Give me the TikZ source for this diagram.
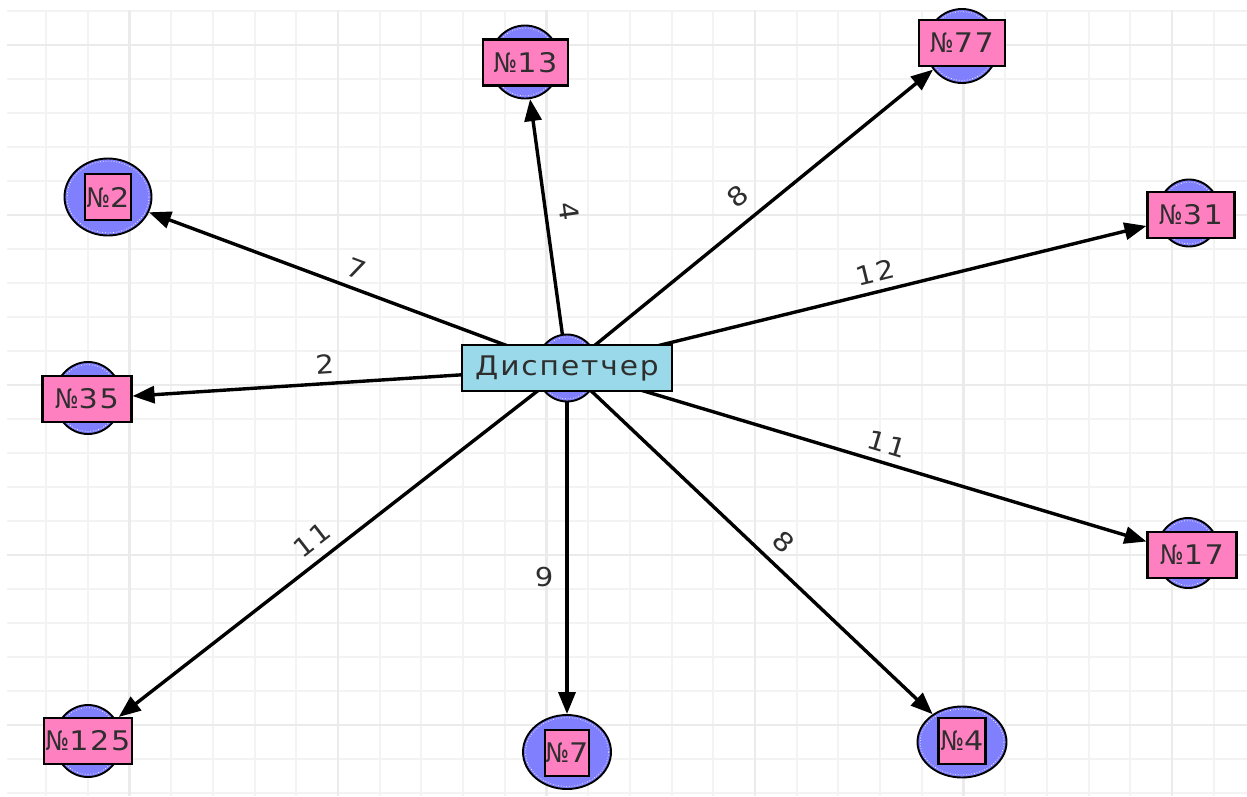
\documentclass[tikz,border=0pt]{standalone}
\usepackage{fontspec}
\usepackage{graphicx}
\usetikzlibrary{arrows.meta,shapes.geometric}
\newfontfamily\labelfont[FakeStretch=1.12,LetterSpace=6]{DejaVu Sans}
\newfontfamily\hubfont[FakeStretch=1.1,LetterSpace=7]{DejaVu Sans}
% a narrower numero sign
\newcommand\numsign{\scalebox{0.75}[1]{№}}
\definecolor{gridminor}{HTML}{F3F3F3}
\definecolor{gridmajor}{HTML}{EBEBEB}
\definecolor{nodeblue}{HTML}{8080FF}
\definecolor{nodepink}{HTML}{FF80C0}
\definecolor{hubcyan}{HTML}{99D9EA}
\definecolor{txt}{HTML}{2E2E2E}
\pgfdeclarelayer{grid}
\pgfdeclarelayer{edges}
\pgfsetlayers{grid,edges,main}
\tikzset{
  minorline/.style={gridminor,line width=2pt},
  majorline/.style={gridmajor,line width=2.4pt},
  halo/.style 2 args={shape=ellipse,draw=black,line width=1.9pt,fill=nodeblue,
    minimum width=#1,minimum height=#2,inner sep=0pt,
    path picture={\draw[white,dotted,line width=0.7pt]
      (path picture bounding box.center) ellipse [x radius=#1/2-2.6pt,y radius=#2/2-2.6pt];}},
  tag/.style={draw=black,line width=2.1pt,fill=nodepink,text=txt,
    font=\labelfont\fontsize{27}{27}\selectfont,inner sep=0pt,
    minimum width=#1,minimum height=46pt},
  hub/.style={draw=black,line width=2.1pt,fill=hubcyan,text=txt,
    font=\hubfont\fontsize{27}{27}\selectfont,inner sep=0pt,
    minimum width=210pt,minimum height=46pt},
  wire/.style={draw=black,line width=3.4pt,-{Triangle[length=22pt,width=17pt]}},
  lbl/.style={font=\labelfont\fontsize{26}{26}\selectfont,text=txt,inner sep=2pt},
}
\begin{document}
\begin{tikzpicture}[x=1pt,y=-1pt]
\useasboundingbox (0,0) rectangle (1247,796);
% squared paper
\begin{pgfonlayer}{grid}
  \fill[white] (0,0) rectangle (1247,796);
  \foreach \j in {0,...,28} \draw[minorline] ({46+41.7*\j},10) -- ({46+41.7*\j},796);
  \foreach \i in {-1,...,22} \draw[minorline] (7,{45+34*\i}) -- (1247,{45+34*\i});
  \foreach \j in {2,7,...,27} \draw[majorline] ({46+41.7*\j},10) -- ({46+41.7*\j},796);
  \foreach \i in {0,5,...,20} \draw[majorline] (7,{45+34*\i}) -- (1247,{45+34*\i});
\end{pgfonlayer}

% dispatcher
\node[halo={62pt}{67pt}] (ce) at (567,368) {};
\node[hub] (c) at (567,368) {Диспетчер};

% stops
\node[halo={70pt}{73pt}] (e13) at (525,62) {};
\node[tag=85pt] (n13) at (525.5,62.5) {\numsign13};
\node[halo={72pt}{74pt}] (e77) at (962,46) {};
\node[tag=86pt] (n77) at (962,43) {\numsign77};
\node[halo={87pt}{77pt}] (e2) at (108,197) {};
\node[tag=46pt] (n2) at (108,197) {\numsign2};
\node[halo={62pt}{67pt}] (e31) at (1189,213) {};
\node[tag=87pt] (n31) at (1191,215) {\numsign31};
\node[halo={67pt}{72pt}] (e35) at (88,398) {};
\node[tag=89pt] (n35) at (87,399) {\numsign35};
\node[halo={63pt}{70pt}] (e17) at (1188,553) {};
\node[tag=89pt] (n17) at (1192,555) {\numsign17};
\node[halo={67pt}{72pt}] (e125) at (88,741) {};
\node[tag=88pt] (n125) at (88,741) {\numsign125};
\node[halo={88pt}{74pt}] (e7) at (567,752) {};
\node[tag=44pt] (n7) at (567,753) {\numsign7};
\node[halo={89pt}{71pt}] (e4) at (962,742) {};
\node[tag=47pt] (n4) at (962,741) {\numsign4};

% routes
\begin{pgfonlayer}{edges}
  \draw[wire] (ce.center) -- node[lbl,sloped,above=6pt,pos=0.52] {7} (e2);
  \draw[wire] (ce.center) -- node[lbl,sloped,above=10pt,pos=0.57] {4} (e13);
  \draw[wire] (ce.center) -- node[lbl,sloped,above=11pt,pos=0.51] {8} (e77);
  \draw[wire] (ce.center) -- node[lbl,sloped,above=6pt,pos=0.54] {12} (n31);
  \draw[wire] (ce.center) -- node[lbl,sloped,above=6pt,pos=0.555] {2} (n35);
  \draw[wire] (ce.center) -- node[lbl,sloped,above=6pt,pos=0.543] {11} (n17);
  \draw[wire] (ce.center) -- node[lbl,sloped,above=9pt,pos=0.55] {8} (e4);
  \draw[wire] (ce.center) -- node[lbl,left=10pt,pos=0.605] {9} (e7);
  \draw[wire] (ce.center) -- node[lbl,sloped,above=8pt,pos=0.54] {11} (n125);
\end{pgfonlayer}
\end{tikzpicture}
\end{document}
